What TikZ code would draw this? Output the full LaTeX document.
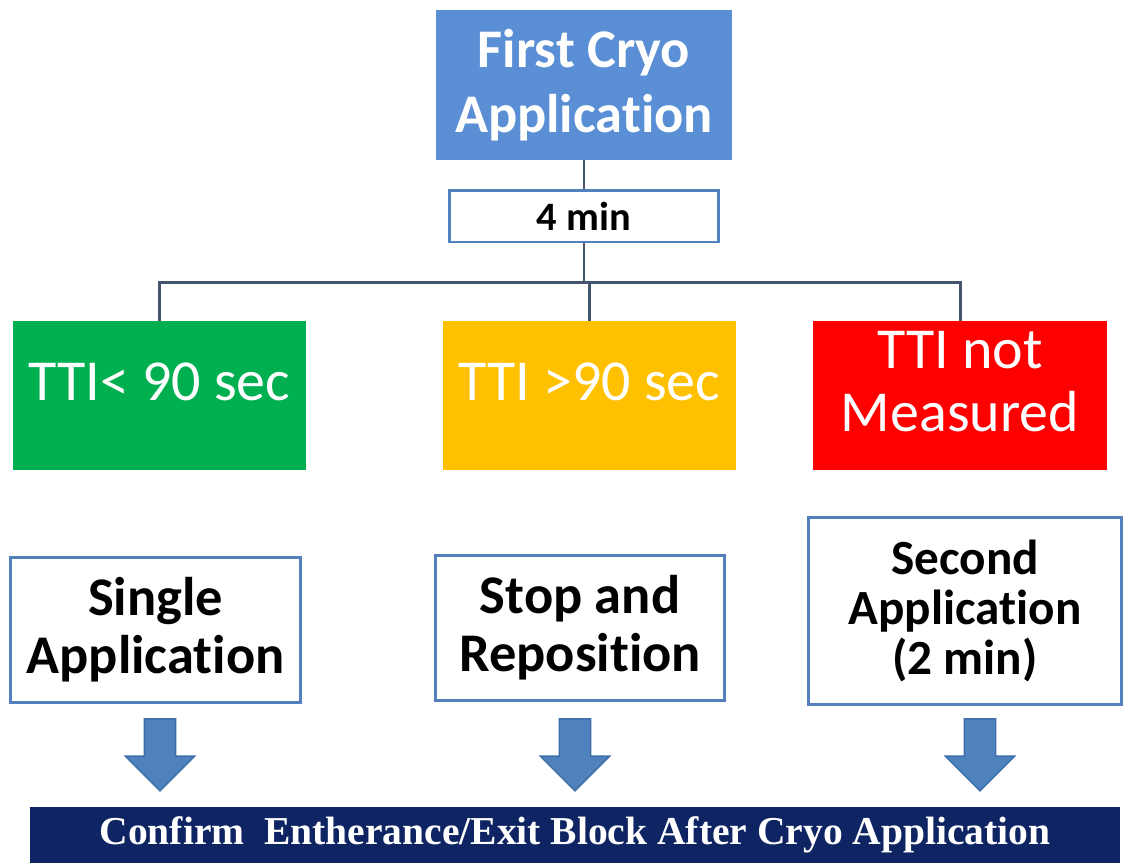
\documentclass[tikz,border=0pt]{standalone}
\usepackage{fontspec}
\setmainfont{Carlito}[Ligatures=NoCommon]
\newfontfamily\barfont{Liberation Serif}
\usetikzlibrary{shapes.arrows}

\definecolor{cryoblue}{HTML}{5A8FD5}
\definecolor{edgeblue}{HTML}{5580BE}
\definecolor{linkgray}{HTML}{44546A}
\definecolor{ttigreen}{HTML}{00B050}
\definecolor{ttiorange}{HTML}{FFC000}
\definecolor{ttired}{HTML}{FF0000}
\definecolor{arrowblue}{HTML}{4F81BD}
\definecolor{arrowedge}{HTML}{3F6FAA}
\definecolor{barnavy}{HTML}{0F2563}

\begin{document}
\begin{tikzpicture}[x=0.02cm,y=-0.02cm,
  cryobox/.style={fill=cryoblue,text=white,font=\fontsize{31}{37}\selectfont\bfseries,
    align=center,minimum width=5.94cm,minimum height=3cm,inner sep=0},
  timebox/.style={draw=edgeblue,line width=1.7pt,fill=white,font=\fontsize{23}{26}\selectfont\bfseries,
    minimum width=5.4cm,minimum height=1.04cm,inner sep=0},
  ttibox/.style={text=white,font=\fontsize{33}{36}\selectfont,align=center,text depth=16pt,
    minimum width=5.88cm,minimum height=2.98cm,inner sep=0},
  stepbox/.style={draw=edgeblue,line width=1.7pt,fill=white,font=\fontsize{31}{33}\selectfont\bfseries,
    align=center,minimum width=5.8cm,minimum height=2.9cm,inner sep=0},
  downarrow/.style={single arrow,single arrow head extend=0.38cm,single arrow tip angle=90,
    fill=arrowblue,draw=arrowedge,line width=0.8pt,minimum height=1.44cm,
    inner xsep=0,inner ysep=0.3cm,rotate=-90},
  confirmbar/.style={fill=barnavy,text=white,font=\barfont\fontsize{22.5}{25}\selectfont\bfseries,
    minimum width=21.8cm,minimum height=1.12cm,inner sep=0},
  link/.style={draw=linkgray,line width=1.7pt}]
\useasboundingbox (0,0) rectangle (1123,863);

\node[cryobox] (first) at (584,85) {First Cryo\\Application};
\node[timebox] (fourmin) at (584,216) {4 min};
\coordinate (split) at (584,282);

\node[ttibox,fill=ttigreen] (fast) at (159.5,395.5) {TTI< 90 sec};
\node[ttibox,fill=ttiorange] (slow) at (589.5,395.5) {TTI >90 sec};
\node[ttibox,fill=ttired] (unknown) at (960,395.5) {TTI not\\Measured};

\node[stepbox] (single) at (155.5,630) {Single\\Application};
\node[stepbox] (stop) at (580,628) {Stop and\\Reposition};
\node[stepbox,font=\fontsize{28}{28.5}\selectfont\bfseries,minimum width=6.28cm,minimum height=3.76cm]
  (second) at (965,611) {Second\\Application\\(2 min)};

\node[downarrow] (go1) at (160,747) {};
\node[downarrow] (go2) at (575,747) {};
\node[downarrow] (go3) at (980,747) {};

\node[confirmbar] (confirm) at (575,835) {Confirm~ Entherance/Exit Block After Cryo Application};

\draw[link] (first) -- (fourmin);
\draw[link] (fourmin) -- (split);
\draw[link] (fast) |- (split) -| (unknown);
\draw[link] (split) -| (slow);
\end{tikzpicture}
\end{document}
